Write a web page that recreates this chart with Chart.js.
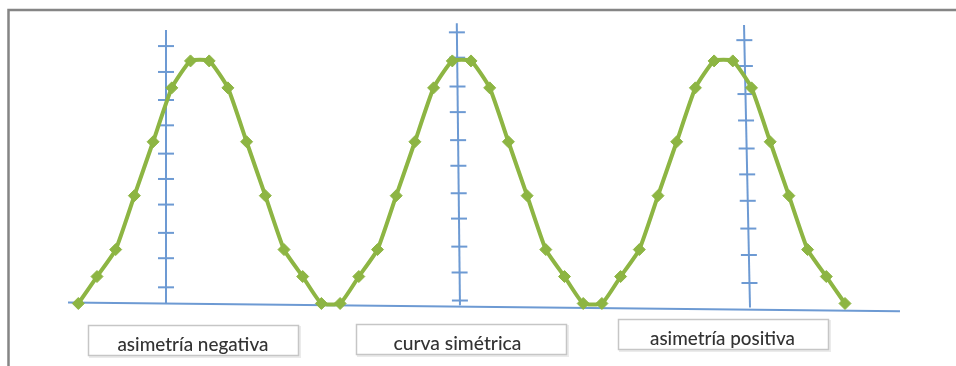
<!DOCTYPE html>
<html>
<head>
<meta charset="utf-8">
<script src="https://cdn.jsdelivr.net/npm/chart.js@4/dist/chart.umd.min.js"></script>
<style>
  html, body { margin: 0; padding: 0; background: #ffffff; }
  #c { display: block; }
</style>
</head>
<body>
<canvas id="c" width="956" height="366"></canvas>
<script>
// ---- data ----
const negativeCurve  = [0, 1, 2, 4, 6, 8, 9, 9, 8, 6, 4, 2, 1, 0];
const symmetricCurve = [0, 1, 2, 4, 6, 8, 9, 9, 8, 6, 4, 2, 1, 0];
const positiveCurve  = [0, 1, 2, 4, 6, 8, 9, 9, 8, 6, 4, 2, 1, 0];
const boxLabels = ['asimetría negativa', 'curva simétrica', 'asimetría positiva'];

// decorative vertical axes (x position at top / bottom, extent, tick values)
const axisXTop    = [4.69, 20.24, 35.6];
const axisXBottom = [4.69, 20.41, 35.92];
const axisTop     = [10.15, 10.4, 10.33];
const axisBottom  = [0, -0.07, -0.15];
const axis1Ticks = [0.6, 1.68, 2.62, 3.67, 4.62, 5.56, 6.61, 7.55, 8.59, 9.55];
const axis2Ticks = [0.11, 1.15, 2.11, 3.15, 4.09, 5.11, 6.06, 7.1, 8.05, 9.12, 10.06];
const axis3Ticks = [0.76, 1.8, 2.78, 3.81, 4.79, 5.75, 6.79, 7.77, 8.81, 9.77];
// base line (slightly tilted) end points
const baseX = [-0.55, 43.94];
const baseY = [0.04, -0.29];

const allValues = negativeCurve.concat(symmetricCurve, positiveCurve);
const points = allValues.map((v, i) => ({ x: i, y: v }));
const axisTicks = [axis1Ticks, axis2Ticks, axis3Ticks];

const BLUE = '#6d9ad3';
const GREEN = '#8db543';

const decoPlugin = {
  id: 'deco',
  beforeDatasetsDraw(chart) {
    const ctx = chart.ctx;
    const xs = chart.scales.x, ys = chart.scales.y;
    ctx.save();
    ctx.strokeStyle = BLUE;
    ctx.lineWidth = 2;
    ctx.lineCap = 'butt';
    // base line
    ctx.beginPath();
    ctx.moveTo(xs.getPixelForValue(baseX[0]), ys.getPixelForValue(baseY[0]));
    ctx.lineTo(xs.getPixelForValue(baseX[1]), ys.getPixelForValue(baseY[1]));
    ctx.stroke();
    // vertical axes with ticks
    for (let a = 0; a < 3; a++) {
      const x0 = xs.getPixelForValue(axisXBottom[a]);
      const x1 = xs.getPixelForValue(axisXTop[a]);
      const y0 = ys.getPixelForValue(axisBottom[a]);
      const y1 = ys.getPixelForValue(axisTop[a]);
      ctx.beginPath();
      ctx.moveTo(x0, y0);
      ctx.lineTo(x1, y1);
      ctx.stroke();
      axisTicks[a].forEach(t => {
        const ty = ys.getPixelForValue(t);
        const f = (ty - y0) / (y1 - y0);
        const tx = x0 + (x1 - x0) * f;
        ctx.beginPath();
        ctx.moveTo(tx - 8, ty);
        ctx.lineTo(tx + 8, ty);
        ctx.stroke();
      });
    }
    ctx.restore();
  },
  afterDraw(chart) {
    const ctx = chart.ctx;
    const xs = chart.scales.x;
    const o = chart.options.plugins.deco;
    ctx.save();
    // label boxes
    boxLabels.forEach((label, i) => {
      const cx = xs.getPixelForValue(o.boxCenters[i]);
      const left = Math.round(cx - o.boxWidth / 2) + 0.5;
      const top = o.boxTops[i] + 0.5;
      // soft shadow
      ctx.strokeStyle = 'rgba(0,0,0,0.08)';
      ctx.lineWidth = 2;
      ctx.strokeRect(left + 1.5, top + 1.5, o.boxWidth, o.boxHeight);
      ctx.fillStyle = '#ffffff';
      ctx.fillRect(left, top, o.boxWidth, o.boxHeight);
      ctx.strokeStyle = '#c6c6c6';
      ctx.lineWidth = 1.5;
      ctx.strokeRect(left, top, o.boxWidth, o.boxHeight);
      ctx.fillStyle = '#333333';
      ctx.font = o.font;
      ctx.textAlign = 'center';
      ctx.textBaseline = 'alphabetic';
      ctx.fillText(label, cx + o.textDx[i], top + o.baseline, o.textWidths[i]);
    });
    // outer frame (top and left)
    ctx.strokeStyle = '#858585';
    ctx.lineWidth = 2.5;
    ctx.beginPath();
    ctx.moveTo(8.5, 366);
    ctx.lineTo(8.5, 10);
    ctx.lineTo(956, 10);
    ctx.stroke();
    ctx.restore();
  }
};

new Chart(document.getElementById('c'), {
  type: 'line',
  data: {
    datasets: [{
      data: points,
      borderColor: GREEN,
      backgroundColor: GREEN,
      borderWidth: 4,
      tension: 0.15,
      pointStyle: 'rectRot',
      pointRadius: 6,
      pointBorderWidth: 1,
      pointBorderColor: GREEN,
      pointBackgroundColor: GREEN,
      fill: false,
      clip: false
    }]
  },
  options: {
    responsive: false,
    animation: false,
    devicePixelRatio: 1,
    layout: { padding: { left: 59.6, right: 36.2, top: 3.8, bottom: 8.6 } },
    scales: {
      x: { type: 'linear', min: -1, max: 45, display: false },
      y: { type: 'linear', min: -2, max: 11, display: false }
    },
    plugins: {
      legend: { display: false },
      tooltip: { enabled: false },
      deco: {
        boxCenters: [6.13, 20.49, 34.45],
        boxTops: [325, 324, 319],
        boxWidth: 210,
        boxHeight: 30,
        baseline: 25,
        textDx: [0, -4, 0],
        textWidths: [151, 128, 145],
        font: '500 20px Lato'
      }
    }
  },
  plugins: [decoPlugin]
});
</script>
</body>
</html>
